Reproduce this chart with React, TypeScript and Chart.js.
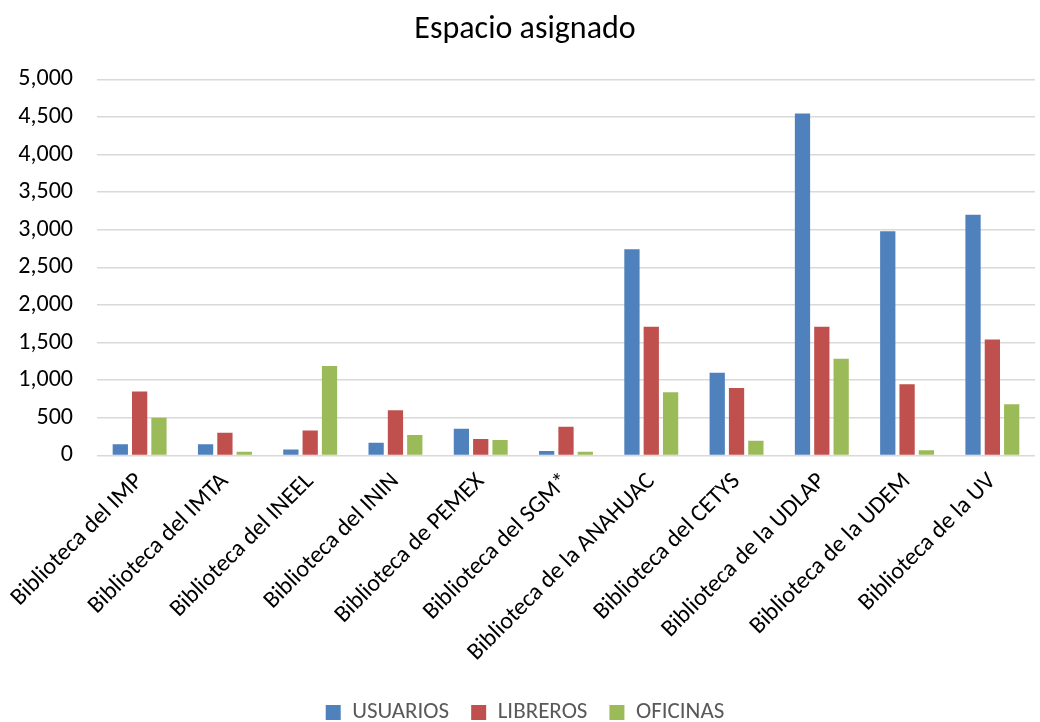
import React, { useEffect, useRef } from "react";
import { Chart, registerables } from "chart.js";

Chart.register(...registerables);

const categories = [
  "Biblioteca del IMP",
  "Biblioteca del IMTA",
  "Biblioteca del INEEL",
  "Biblioteca del ININ",
  "Biblioteca de PEMEX",
  "Biblioteca del SGM*",
  "Biblioteca de la ANAHUAC",
  "Biblioteca del CETYS",
  "Biblioteca de la UDLAP",
  "Biblioteca de la UDEM",
  "Biblioteca de la UV",
];

const usuarios = [150, 150, 80, 170, 355, 60, 2740, 1100, 4545, 2980, 3200];
const libreros = [850, 300, 330, 600, 220, 380, 1710, 895, 1710, 945, 1540];
const oficinas = [500, 50, 1190, 270, 205, 50, 840, 195, 1285, 70, 680];

const FONT = "Carlito, Calibri, Lato, 'Open Sans', sans-serif";

export default function App() {
  const ref = useRef<HTMLCanvasElement>(null);

  useEffect(() => {
    if (!ref.current) return;
    const chart = new Chart(ref.current, {
      type: "bar",
      data: {
        labels: categories,
        datasets: [
          { label: "USUARIOS", data: usuarios, backgroundColor: "#4F81BD" },
          { label: "LIBREROS", data: libreros, backgroundColor: "#C0504D" },
          { label: "OFICINAS", data: oficinas, backgroundColor: "#9BBB59" },
        ],
      },
      options: {
        animation: false,
        responsive: false,
        maintainAspectRatio: false,
        layout: { padding: { top: 11, right: 5, bottom: -12, left: 15 } },
        datasets: {
          bar: { categoryPercentage: 0.68, barPercentage: 0.79 },
        },
        plugins: {
          title: {
            display: true,
            text: "Espacio asignado",
            color: "#000000",
            font: { family: FONT, size: 32, weight: "normal" },
            padding: { top: 0, bottom: 30 },
          },
          legend: {
            position: "bottom",
            labels: {
              color: "#595959",
              font: { family: FONT, size: 23 },
              boxWidth: 15,
              boxHeight: 15,
              padding: 22,
            },
          },
          tooltip: { enabled: false },
        },
        scales: {
          x: {
            grid: { display: false, drawTicks: false },
            border: { display: false },
            ticks: {
              color: "#000000",
              font: { family: FONT, size: 24 },
              maxRotation: 45,
              minRotation: 45,
              padding: 12,
              autoSkip: false,
            },
            afterFit: (scale: any) => {
              scale.paddingLeft = 0;
            },
          },
          y: {
            min: 0,
            max: 5000,
            grid: { color: "#d9d9d9", lineWidth: 1.5, drawTicks: false },
            border: { display: false },
            ticks: {
              stepSize: 500,
              color: "#000000",
              font: { family: FONT, size: 24 },
              padding: 24,
              callback: (v: any) => Number(v).toLocaleString("en-US"),
            },
            afterFit: (scale: any) => {
              scale.width = 82;
            },
          },
        },
      },
    });
    return () => chart.destroy();
  }, []);

  return (
    <div style={{ position: "fixed", left: 0, top: 0, width: 1040, height: 722, background: "#fff" }}>
      <canvas ref={ref} width={1040} height={722} />
    </div>
  );
}
